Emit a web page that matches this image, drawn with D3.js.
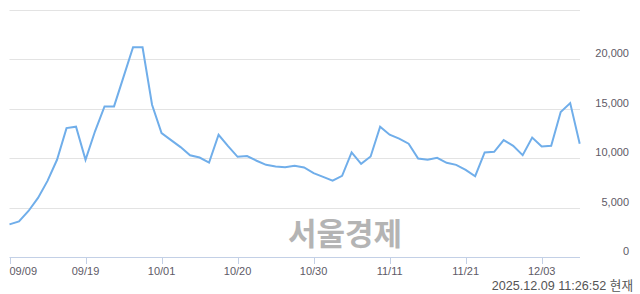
<!DOCTYPE html>
<html>
<head>
<meta charset="utf-8">
<script src="https://cdn.jsdelivr.net/npm/d3@7"></script>
<style>
  html, body { margin: 0; padding: 0; background: #fff; }
  svg { display: block; }
</style>
</head>
<body>
<svg id="chart" width="640" height="294"></svg>
<script>
// Trading days shown (index), tick labels every 8 trading days
const tickIndex = [0, 8, 16, 24, 32, 40, 48, 56];
const tickLabels = ["09/09", "09/19", "10/01", "10/20", "10/30", "11/11", "11/21", "12/03"];
const yTicks = [0, 5000, 10000, 15000, 20000, 25000];
const yTickLabels = ["0", "5,000", "10,000", "15,000", "20,000", ""];
const prices = [
  3300, 3600, 4650, 5970, 7690, 9820, 13020, 13160, 9820, 12700,
  15210, 15210, 18190, 21180, 21180, 15380, 12520, 11810, 11100, 10280,
  10050, 9540, 12350, 11200, 10120, 10190, 9720, 9310, 9140, 9060,
  9210, 9040, 8470, 8100, 7720, 8200, 10560, 9410, 10150, 13160,
  12350, 11960, 11440, 9950, 9820, 10020, 9510, 9310, 8800, 8160,
  10560, 10630, 11810, 11230, 10290, 12070, 11160, 11230, 14640, 15550,
  11440
];
const watermark = "서울경제";
const stamp = "2025.12.09 11:26:52 현재";

const svg = d3.select("#chart");
const x = d3.scaleLinear().domain([0, prices.length - 1]).range([9.5, 579.7]);
const y = d3.scaleLinear().domain([0, 25000]).range([257, 9.5]);

// grid lines
svg.append("g").selectAll("line").data(yTicks.filter(d => d > 0)).join("line")
  .attr("x1", 9.5).attr("x2", 580)
  .attr("y1", d => Math.round(y(d)) + 0.5).attr("y2", d => Math.round(y(d)) + 0.5)
  .attr("stroke", "#e3e3e3").attr("stroke-width", 1);

// watermark
svg.append("text").text(watermark)
  .attr("x", 345).attr("y", 245)
  .attr("text-anchor", "middle")
  .attr("font-family", "'Noto Sans CJK KR', sans-serif")
  .attr("font-weight", "bold").attr("font-size", 31)
  .attr("fill", "#b4b4b4");

// x axis line + ticks
svg.append("line").attr("x1", 9.5).attr("x2", 580).attr("y1", 257.5).attr("y2", 257.5)
  .attr("stroke", "#c3d0e6").attr("stroke-width", 1);
svg.append("g").selectAll("line").data(tickIndex).join("line")
  .attr("x1", d => Math.round(x(d)) + 0.5).attr("x2", d => Math.round(x(d)) + 0.5)
  .attr("y1", 257).attr("y2", 264)
  .attr("stroke", "#c3d0e6").attr("stroke-width", 1);
svg.append("g").selectAll("text").data(tickIndex).join("text")
  .text((d, i) => tickLabels[i])
  .attr("x", d => x(d))
  .attr("y", 275)
  .attr("text-anchor", (d, i) => i === 0 ? "start" : "middle")
  .attr("font-family", "'Liberation Sans', Arial, sans-serif")
  .attr("font-size", 11).attr("fill", "#5e5a66");

// y labels
svg.append("g").selectAll("text").data(yTicks).join("text")
  .text((d, i) => yTickLabels[i])
  .attr("x", 629).attr("y", d => y(d) - 2)
  .attr("text-anchor", "end")
  .attr("font-family", "'Liberation Sans', Arial, sans-serif")
  .attr("font-size", 11).attr("fill", "#5e5a66");

// line
const line = d3.line().x((d, i) => x(i)).y(d => y(d));
svg.append("path").datum(prices)
  .attr("d", line)
  .attr("fill", "none")
  .attr("stroke", "#70aeea")
  .attr("stroke-width", 2)
  .attr("stroke-linejoin", "miter");

// timestamp
svg.append("text").text(stamp)
  .attr("x", 633).attr("y", 290)
  .attr("text-anchor", "end")
  .attr("font-family", "'Liberation Sans', 'Noto Sans CJK KR', sans-serif")
  .attr("font-size", 12.6).attr("fill", "#555");
</script>
</body>
</html>
